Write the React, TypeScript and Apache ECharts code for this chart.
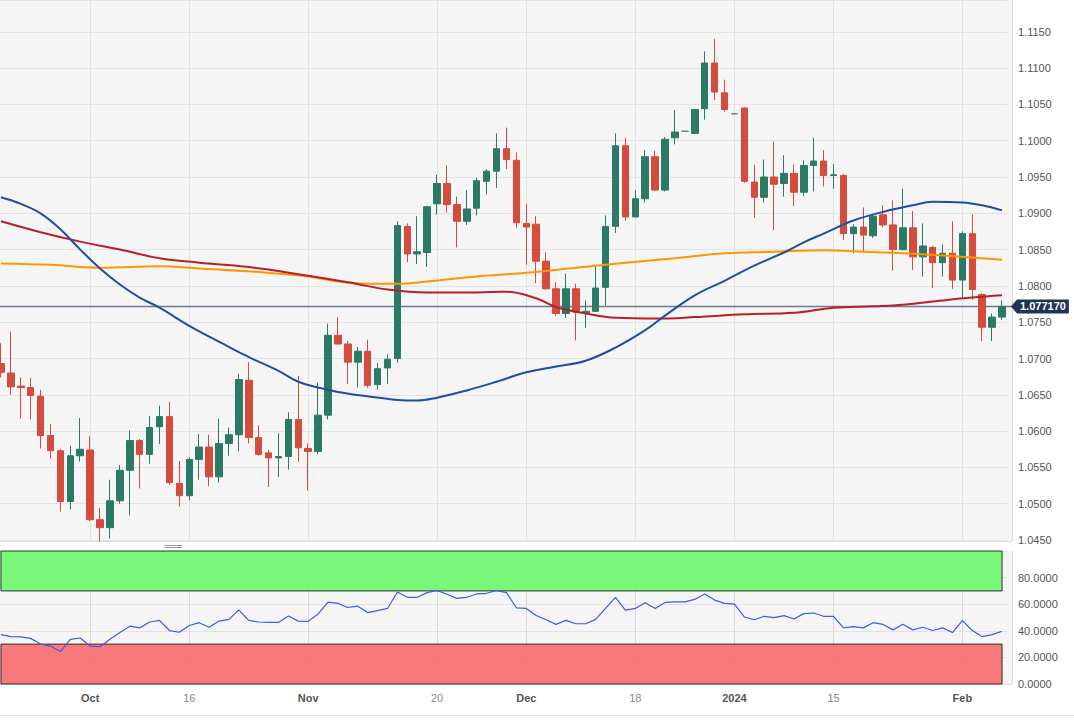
import React, { useEffect, useRef } from "react";
import * as echarts from "echarts";

const dates = [
  "2023-09-19","2023-09-20","2023-09-21","2023-09-22","2023-09-25","2023-09-26","2023-09-27","2023-09-28","2023-09-29",
  "2023-10-02","2023-10-03","2023-10-04","2023-10-05","2023-10-06","2023-10-09","2023-10-10","2023-10-11","2023-10-12","2023-10-13",
  "2023-10-16","2023-10-17","2023-10-18","2023-10-19","2023-10-20","2023-10-23","2023-10-24","2023-10-25","2023-10-26","2023-10-27",
  "2023-10-30","2023-10-31",
  "2023-11-01","2023-11-02","2023-11-03","2023-11-06","2023-11-07","2023-11-08","2023-11-09","2023-11-10","2023-11-13","2023-11-14",
  "2023-11-15","2023-11-16","2023-11-17","2023-11-20","2023-11-21","2023-11-22","2023-11-23","2023-11-24","2023-11-27","2023-11-28",
  "2023-11-29","2023-11-30",
  "2023-12-01","2023-12-04","2023-12-05","2023-12-06","2023-12-07","2023-12-08","2023-12-11","2023-12-12","2023-12-13","2023-12-14",
  "2023-12-15","2023-12-18","2023-12-19","2023-12-20","2023-12-21","2023-12-22","2023-12-25","2023-12-26","2023-12-27","2023-12-28",
  "2023-12-29",
  "2024-01-01","2024-01-02","2024-01-03","2024-01-04","2024-01-05","2024-01-08","2024-01-09","2024-01-10","2024-01-11","2024-01-12",
  "2024-01-15","2024-01-16","2024-01-17","2024-01-18","2024-01-19","2024-01-22","2024-01-23","2024-01-24","2024-01-25","2024-01-26",
  "2024-01-29","2024-01-30","2024-01-31",
  "2024-02-01","2024-02-02","2024-02-05","2024-02-06","2024-02-07",
];

// [open, high, low, close]
const ohlc: number[][] = [
  [1.0693, 1.0721, 1.0674, 1.0681],
  [1.0680, 1.0737, 1.0650, 1.0661],
  [1.0662, 1.0674, 1.0617, 1.0660],
  [1.0660, 1.0673, 1.0616, 1.0649],
  [1.0648, 1.0657, 1.0576, 1.0594],
  [1.0594, 1.0610, 1.0562, 1.0573],
  [1.0573, 1.0575, 1.0489, 1.0503],
  [1.0503, 1.0580, 1.0492, 1.0566],
  [1.0566, 1.0618, 1.0558, 1.0575],
  [1.0574, 1.0593, 1.0476, 1.0478],
  [1.0478, 1.0494, 1.0448, 1.0467],
  [1.0467, 1.0533, 1.0452, 1.0504],
  [1.0504, 1.0553, 1.0500, 1.0546],
  [1.0546, 1.0601, 1.0484, 1.0587],
  [1.0587, 1.0589, 1.0521, 1.0568],
  [1.0568, 1.0621, 1.0555, 1.0605],
  [1.0606, 1.0635, 1.0582, 1.0620],
  [1.0620, 1.0640, 1.0526, 1.0529],
  [1.0528, 1.0559, 1.0496, 1.0511],
  [1.0511, 1.0564, 1.0505, 1.0561],
  [1.0561, 1.0596, 1.0533, 1.0578],
  [1.0578, 1.0595, 1.0524, 1.0537],
  [1.0537, 1.0617, 1.0529, 1.0583],
  [1.0583, 1.0605, 1.0566, 1.0595],
  [1.0595, 1.0679, 1.0572, 1.0671],
  [1.0670, 1.0695, 1.0583, 1.0591],
  [1.0591, 1.0608, 1.0566, 1.0568],
  [1.0570, 1.0574, 1.0523, 1.0563],
  [1.0563, 1.0597, 1.0537, 1.0565],
  [1.0565, 1.0626, 1.0547, 1.0616],
  [1.0616, 1.0676, 1.0558, 1.0577],
  [1.0576, 1.0583, 1.0518, 1.0572],
  [1.0572, 1.0667, 1.0568, 1.0622],
  [1.0622, 1.0748, 1.0616, 1.0732],
  [1.0732, 1.0757, 1.0719, 1.0720],
  [1.0720, 1.0724, 1.0665, 1.0695],
  [1.0695, 1.0716, 1.0660, 1.0710],
  [1.0710, 1.0726, 1.0660, 1.0663],
  [1.0664, 1.0694, 1.0657, 1.0686],
  [1.0687, 1.0706, 1.0665, 1.0699],
  [1.0700, 1.0889, 1.0694, 1.0883],
  [1.0882, 1.0886, 1.0833, 1.0844],
  [1.0844, 1.0896, 1.0830, 1.0847],
  [1.0846, 1.0910, 1.0826, 1.0909],
  [1.0913, 1.0953, 1.0898, 1.0941],
  [1.0941, 1.0966, 1.0901, 1.0912],
  [1.0912, 1.0923, 1.0853, 1.0889],
  [1.0889, 1.0932, 1.0884, 1.0906],
  [1.0907, 1.0949, 1.0897, 1.0945],
  [1.0944, 1.0961, 1.0926, 1.0958],
  [1.0958, 1.1010, 1.0935, 1.0989],
  [1.0989, 1.1018, 1.0961, 1.0974],
  [1.0973, 1.0984, 1.0880, 1.0887],
  [1.0886, 1.0913, 1.0829, 1.0881],
  [1.0885, 1.0896, 1.0804, 1.0834],
  [1.0834, 1.0846, 1.0795, 1.0796],
  [1.0796, 1.0805, 1.0759, 1.0762],
  [1.0762, 1.0817, 1.0756, 1.0796],
  [1.0796, 1.0803, 1.0725, 1.0764],
  [1.0763, 1.0780, 1.0742, 1.0765],
  [1.0765, 1.0829, 1.0764, 1.0797],
  [1.0798, 1.0897, 1.0773, 1.0882],
  [1.0882, 1.1010, 1.0873, 1.0993],
  [1.0993, 1.1004, 1.0890, 1.0895],
  [1.0895, 1.0932, 1.0894, 1.0920],
  [1.0920, 1.0987, 1.0915, 1.0978],
  [1.0978, 1.0986, 1.0931, 1.0932],
  [1.0932, 1.1005, 1.0930, 1.1002],
  [1.1004, 1.1042, 1.0995, 1.1012],
  [1.1013, 1.1013, 1.1013, 1.1013],
  [1.1010, 1.1043, 1.1009, 1.1043],
  [1.1044, 1.1123, 1.1029, 1.1107],
  [1.1107, 1.1140, 1.1056, 1.1067],
  [1.1066, 1.1084, 1.1040, 1.1043],
  [1.1037, 1.1037, 1.1037, 1.1037],
  [1.1045, 1.1046, 1.0942, 1.0944],
  [1.0943, 1.0967, 1.0894, 1.0922],
  [1.0922, 1.0974, 1.0915, 1.0950],
  [1.0950, 1.0999, 1.0877, 1.0940],
  [1.0941, 1.0980, 1.0923, 1.0955],
  [1.0955, 1.0967, 1.0910, 1.0929],
  [1.0929, 1.0973, 1.0924, 1.0966],
  [1.0966, 1.1004, 1.0930, 1.0972],
  [1.0972, 1.0987, 1.0937, 1.0952],
  [1.0952, 1.0968, 1.0934, 1.0953],
  [1.0952, 1.0954, 1.0863, 1.0872],
  [1.0872, 1.0885, 1.0845, 1.0881],
  [1.0881, 1.0908, 1.0847, 1.0870],
  [1.0869, 1.0899, 1.0866, 1.0896],
  [1.0898, 1.0911, 1.0881, 1.0884],
  [1.0884, 1.0918, 1.0821, 1.0850],
  [1.0850, 1.0934, 1.0849, 1.0880],
  [1.0880, 1.0903, 1.0822, 1.0840],
  [1.0840, 1.0886, 1.0813, 1.0855],
  [1.0853, 1.0855, 1.0797, 1.0832],
  [1.0832, 1.0857, 1.0813, 1.0845],
  [1.0845, 1.0889, 1.0796, 1.0808],
  [1.0808, 1.0875, 1.0784, 1.0872],
  [1.0872, 1.0898, 1.0781, 1.0795],
  [1.0788, 1.0790, 1.0724, 1.0743],
  [1.0743, 1.0762, 1.0724, 1.0757],
  [1.0757, 1.0780, 1.0753, 1.07717],
];

const holidayDates = ["2023-12-25", "2024-01-01"];

// moving averages: [date index, value]
const smaBlue: number[][] = [
  [0, 1.0922], [2, 1.0913], [4, 1.0900], [6, 1.0878], [8, 1.0850], [10, 1.0824], [12, 1.0802],
  [14, 1.0784], [16, 1.0770], [19, 1.0745], [23, 1.0716], [25, 1.0702], [28, 1.0683], [30, 1.0668],
  [32, 1.0660], [34, 1.0654], [37, 1.0648], [40, 1.0643], [42, 1.0642], [44, 1.0646], [47, 1.0656],
  [50, 1.0668], [53, 1.0681], [56, 1.0689], [59, 1.0697], [62, 1.0715], [65, 1.0739], [67, 1.0759],
  [70, 1.0787], [73, 1.0807], [76, 1.0828], [79, 1.0846], [81, 1.0860], [83, 1.0872], [86, 1.0890],
  [89, 1.0902], [92, 1.0911], [94, 1.0916], [97, 1.0915], [99, 1.0911], [101, 1.0904],
];
const smaRed: number[][] = [
  [0, 1.0889], [4, 1.0874], [8, 1.0861], [12, 1.0850], [16, 1.0838], [20, 1.0832], [25, 1.0826],
  [31, 1.0814], [35, 1.0805], [39, 1.0795], [43, 1.0791], [48, 1.0791], [51, 1.0792], [54, 1.0783],
  [56, 1.0771], [59, 1.0762], [62, 1.0756], [66, 1.0755], [70, 1.0757], [75, 1.0761], [80, 1.0763],
  [84, 1.0770], [88, 1.0772], [91, 1.0774], [95, 1.0780], [98, 1.0784], [101, 1.0787],
];
const smaOrange: number[][] = [
  [0, 1.0831], [5, 1.0829], [10, 1.0825], [16, 1.0827], [20, 1.0824], [26, 1.0819], [31, 1.0813],
  [34, 1.0806], [37, 1.0803], [40, 1.0803], [43, 1.0806], [48, 1.0813], [53, 1.0818], [58, 1.0825],
  [63, 1.0832], [68, 1.0838], [73, 1.0845], [78, 1.0847], [83, 1.0849], [87, 1.0847], [91, 1.0845],
  [95, 1.0842], [98, 1.0839], [101, 1.0836],
];

const rsi = [
  37.1, 35.6, 35.4, 34.3, 30.0, 28.5, 24.4, 33.6, 34.6, 28.5, 28.0, 33.6, 38.8, 43.5, 42.2, 46.6, 47.8,
  40.2, 38.9, 44.0, 46.1, 42.7, 47.3, 48.6, 55.7, 47.8, 46.6, 46.3, 46.3, 51.1, 47.3, 47.1, 52.7, 61.6,
  60.6, 57.5, 58.5, 53.7, 55.2, 56.8, 69.2, 65.2, 65.2, 68.7, 70.3, 67.5, 64.4, 65.2, 67.7, 68.2, 70.3,
  68.7, 57.3, 56.8, 51.5, 48.3, 44.8, 47.8, 45.3, 45.3, 48.6, 56.8, 65.2, 55.5, 56.8, 61.1, 56.8, 61.3,
  61.8, 61.8, 63.6, 67.7, 63.1, 60.6, 60.1, 50.4, 48.3, 50.9, 49.9, 51.4, 48.9, 52.9, 53.4, 50.9, 50.9,
  42.2, 43.2, 42.2, 46.1, 44.8, 40.7, 45.0, 40.7, 42.7, 40.2, 42.2, 38.7, 47.6, 40.2, 35.6, 37.1, 39.7,
];

const xTickLabels: [string, string, boolean][] = [
  ["2023-10-02", "Oct", true],
  ["2023-10-16", "16", false],
  ["2023-11-01", "Nov", true],
  ["2023-11-20", "20", false],
  ["2023-12-01", "Dec", true],
  ["2023-12-18", "18", false],
  ["2024-01-01", "2024", true],
  ["2024-01-15", "15", false],
  ["2024-02-01", "Feb", true],
];

const lastPrice = 1.07717;
const lastPriceText = "1.077170";
const rsiOverbought = 70;
const rsiOversold = 30;

const GREEN = "#2b7a65";
const RED = "#d54b3c";
const FONT = "Liberation Sans, Arial, Helvetica, sans-serif";
const OX = 10; // canvas is shifted 10px to the left of the page

export default function App() {
  const ref = useRef<HTMLDivElement>(null);

  useEffect(() => {
    if (!ref.current) return;
    const chart = echarts.init(ref.current, undefined, { renderer: "svg" });

    const candleData = ohlc.map((r, i) => {
      const value = [r[0], r[3], r[2], r[1]];
      if (holidayDates.includes(dates[i])) {
        return {
          value,
          itemStyle: { color: "#777", color0: "#777", borderColor: "#777", borderColor0: "#777" },
        };
      }
      return value;
    });

    const labelMap: Record<string, [string, boolean]> = {};
    xTickLabels.forEach(([d, t, b]) => (labelMap[d] = [t, b]));

    const pairs = (arr: number[][]) => arr.map(([i, v]) => [dates[i], v]);
    const vLines = xTickLabels.map(([d]) => ({ xAxis: d }));

    const gridLineStyle = { color: "#e3e3e3", width: 1 };

    chart.setOption({
      animation: false,
      textStyle: { fontFamily: FONT },
      grid: [
        { left: OX - 4, top: 0, width: 1011, height: 540, show: false },
        { left: OX - 4, top: 551, width: 1011, height: 133, show: false },
      ],
      xAxis: [
        {
          type: "category",
          gridIndex: 0,
          data: dates,
          boundaryGap: true,
          axisLine: { show: false },
          axisTick: { show: false },
          axisLabel: { show: false },
          splitLine: { show: false },
        },
        {
          type: "category",
          gridIndex: 1,
          data: dates,
          boundaryGap: true,
          axisLine: { show: false },
          axisTick: { show: false },
          splitLine: { show: false },
          axisLabel: {
            show: true,
            interval: (_idx: number, val: string) => !!labelMap[val],
            margin: 8,
            formatter: (val: string) => {
              const l = labelMap[val];
              if (!l) return "";
              return l[1] ? `{b|${l[0]}}` : `{n|${l[0]}}`;
            },
            rich: {
              b: { fontWeight: "bold", color: "#555", fontSize: 11, fontFamily: FONT },
              n: { color: "#888", fontSize: 11, fontFamily: FONT },
            },
          },
        },
      ],
      yAxis: [
        {
          type: "value",
          gridIndex: 0,
          position: "right",
          min: 1.045,
          max: 1.045 + 540 / 7260,
          interval: 0.005,
          axisLine: { show: false },
          axisTick: { show: false },
          axisLabel: {
            margin: 11,
            color: "#555",
            fontSize: 11,
            fontFamily: FONT,
            showMaxLabel: false,
            formatter: (v: number) => v.toFixed(4),
          },
          splitLine: { show: true, lineStyle: gridLineStyle },
        },
        {
          type: "value",
          gridIndex: 1,
          position: "right",
          min: 0,
          max: 100,
          interval: 20,
          axisLine: { show: false },
          axisTick: { show: false },
          axisLabel: {
            margin: 11,
            color: "#555",
            fontSize: 11,
            fontFamily: FONT,
            showMaxLabel: false,
            formatter: (v: number) => v.toFixed(4),
          },
          splitLine: { show: true, lineStyle: gridLineStyle },
        },
      ],
      series: [
        {
          type: "line",
          xAxisIndex: 0,
          yAxisIndex: 0,
          data: [],
          z: 1,
          silent: true,
          markLine: {
            silent: true,
            z: 0,
            symbol: ["none", "none"],
            label: { show: false },
            lineStyle: { ...gridLineStyle, type: "solid" },
            data: vLines,
          },
        },
        {
          type: "line",
          xAxisIndex: 1,
          yAxisIndex: 1,
          data: [],
          z: 1,
          silent: true,
          markLine: {
            silent: true,
            z: 0,
            symbol: ["none", "none"],
            label: { show: false },
            lineStyle: { color: "#d8d8d8", width: 1, type: "solid" },
            data: vLines,
          },
        },
        {
          type: "candlestick",
          xAxisIndex: 0,
          yAxisIndex: 0,
          barWidth: 7,
          data: candleData,
          z: 3,
          itemStyle: {
            color: GREEN,
            color0: RED,
            borderColor: GREEN,
            borderColor0: RED,
            borderWidth: 1,
          },
        },
        {
          type: "line",
          xAxisIndex: 0,
          yAxisIndex: 0,
          data: pairs(smaOrange),
          smooth: 0.4,
          showSymbol: false,
          z: 4,
          lineStyle: { color: "#ff9800", width: 2 },
        },
        {
          type: "line",
          xAxisIndex: 0,
          yAxisIndex: 0,
          data: pairs(smaRed),
          smooth: 0.4,
          showSymbol: false,
          z: 4,
          lineStyle: { color: "#b5202a", width: 2 },
        },
        {
          type: "line",
          xAxisIndex: 0,
          yAxisIndex: 0,
          data: pairs(smaBlue),
          smooth: 0.4,
          showSymbol: false,
          z: 4,
          lineStyle: { color: "#1f4fa3", width: 2 },
        },
        {
          type: "line",
          xAxisIndex: 1,
          yAxisIndex: 1,
          data: rsi,
          showSymbol: false,
          z: 4,
          lineStyle: { color: "#3a5cf0", width: 1.2 },
          markArea: {
            silent: true,
            z: 1,
            itemStyle: { borderColor: "#222", borderWidth: 1, opacity: 0.93 },
            data: [
              [
                { xAxis: dates[0], yAxis: rsiOverbought, itemStyle: { color: "#6ff66e" } },
                { xAxis: dates[dates.length - 1], yAxis: 100 },
              ],
              [
                { xAxis: dates[0], yAxis: 0, itemStyle: { color: "#f86f6f" } },
                { xAxis: dates[dates.length - 1], yAxis: rsiOversold },
              ],
            ],
          },
        },
      ],
    });

    const py = chart.convertToPixel({ yAxisIndex: 0 }, lastPrice) as number;
    const L = (x1: number, y1: number, x2: number, y2: number, stroke: string, z = 0, lineWidth = 1) => ({
      type: "line",
      silent: true,
      z,
      shape: { x1: x1 + OX, y1, x2: x2 + OX, y2 },
      style: { stroke, lineWidth },
    });

    chart.setOption({
      graphic: [
        { type: "rect", z: -10, silent: true, shape: { x: OX, y: 0, width: 1012, height: 541 }, style: { fill: "#f5f5f5" } },
        { type: "rect", z: -10, silent: true, shape: { x: OX, y: 551, width: 1012, height: 133 }, style: { fill: "#f5f5f5" } },
        L(1012.5, 0, 1012.5, 541, "#dcdcdc"),
        L(0, 541.5, 1012, 541.5, "#dcdcdc"),
        L(1012.5, 551, 1012.5, 684, "#dcdcdc"),
        L(0, 684.5, 1012, 684.5, "#dcdcdc"),
        L(0, 715.5, 1074, 715.5, "#e3e3e3"),
        L(165, 545.5, 182, 545.5, "#999"),
        L(165, 547.5, 182, 547.5, "#999"),
        L(0, py, 1012, py, "#6d7b92", 2, 1.5),
        {
          type: "polygon",
          silent: true,
          z: 10,
          shape: { points: [[1011 + OX, py], [1017 + OX, py - 7], [1017 + OX, py + 7]] },
          style: { fill: "#1f3556" },
        },
        {
          type: "text",
          silent: true,
          z: 10,
          x: 1017 + OX,
          y: py,
          style: {
            text: lastPriceText,
            fill: "#fff",
            backgroundColor: "#1f3556",
            padding: [2, 3, 1, 3],
            fontSize: 11,
            fontWeight: "bold",
            fontFamily: FONT,
            verticalAlign: "middle",
            align: "left",
          },
        },
      ],
    });

    return () => chart.dispose();
  }, []);

  return (
    <div
      ref={ref}
      style={{ position: "fixed", left: -OX, top: 0, width: 1074 + OX, height: 722, background: "#fff" }}
    />
  );
}
